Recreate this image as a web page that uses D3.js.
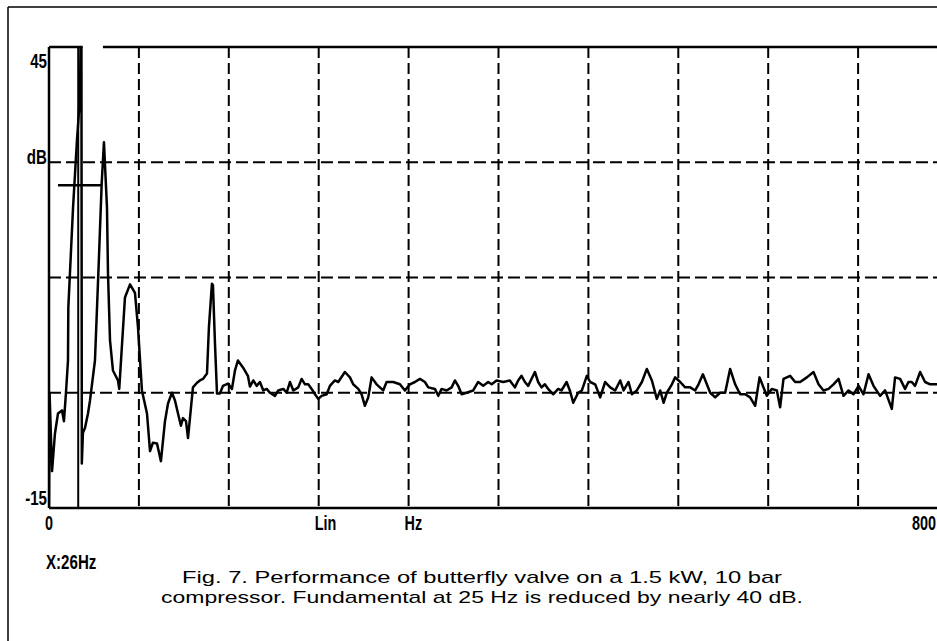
<!DOCTYPE html>
<html><head><meta charset="utf-8">
<script src="https://cdn.jsdelivr.net/npm/d3@7"></script>
<style>body{margin:0;background:#fff;overflow:hidden} svg{display:block}</style>
</head><body>
<svg id="c" width="937" height="641"></svg>
<script>
// ---- data (frequency in Hz, level in dB) ----
const spectrum = [
[0,-15],[0.5,0.0],[2.7,-10.2],[5.3,-5.3],[8.0,-2.7],[11.6,-2.3],[13.3,-3.7],[15.1,0.0],[16.9,4.2],[17.2,11.1],
[21.4,24.1],[24.9,32.9],[27.6,38.5],[28.8,56],[29.2,-9.2],[30.2,-5.2],[32.0,-4.6],[34.7,-2.7],[36.5,-1.0],[40.9,4.2],
[43.9,15.5],[46.9,27.3],[48.9,32.6],[51.6,24.1],[52.5,15.5],[54.3,6.8],[56.9,2.9],[61.4,1.6],[62.5,0.5],[67.6,12.4],
[72.1,14.1],[76.5,13.0],[79.2,8.5],[82.7,0.3],[87.2,-2.7],[89.9,-7.6],[92.5,-6.5],[96.1,-6.6],[99.6,-8.9],[103.2,-3.7],
[105.9,-1.4],[109.4,0.0],[112.1,-1.0],[114.8,-2.7],[117.4,-4.3],[119.2,-3.3],[121.9,-3.7],[123.7,-5.9],[126.3,-2.0],[128.1,0.7],
[131.7,1.3],[134.3,1.6],[137.0,1.8],[140.6,2.5],[142.3,8.5],[145.0,14.2],[145.9,14.0],[147.7,6.4],[149.5,-0.1],[152.1,-0.1],
[154.8,0.9],[159.3,1.2],[162.8,0.5],[165.5,2.9],[168.1,4.2],[172.6,3.3],[177.0,2.2],[178.8,0.8],[181.8,1.6],[184.8,0.9],
[187.7,1.4],[190.7,0.3],[193.7,0.5],[196.6,0.0],[201.1,-0.4],[204.0,0.3],[208.5,0.5],[211.5,0.0],[214.4,1.4],[217.4,0.3],
[221.8,0.7],[224.8,1.8],[227.8,1.1],[230.7,1.1],[233.7,0.5],[236.7,-0.2],[239.6,-0.8],[242.6,-0.4],[247.1,-0.2],[250.0,0.9],
[254.4,1.6],[257.4,1.4],[263.3,2.7],[267.8,2.0],[270.7,1.1],[275.2,0.5],[278.2,-0.2],[281.1,-1.7],[284.1,-0.6],[287.1,2.0],
[291.5,1.1],[297.4,0.3],[300.4,1.4],[306.3,1.4],[312.3,1.1],[316.7,0.3],[321.2,1.1],[325.6,1.4],[330.1,1.8],[334.5,1.4],
[337.5,0.7],[343.4,0.5],[346.4,-0.4],[349.4,0.5],[353.8,0.3],[358.3,0.7],[361.2,1.6],[364.1,0.9],[367.2,-0.2],[371.6,0.0],
[377.5,0.3],[381.9,1.4],[386.4,0.9],[390.8,1.4],[393.9,1.1],[398.3,1.6],[404.2,1.4],[410.1,1.6],[414.6,0.7],[417.5,1.6],
[420.5,2.2],[423.5,1.4],[426.4,0.9],[432.4,2.7],[435.3,1.4],[438.3,0.7],[441.3,1.1],[444.2,0.5],[448.7,-0.2],[453.1,0.5],
[456.1,0.3],[460.6,1.4],[463.5,0.3],[466.5,-1.3],[470.9,0.0],[474.2,0.3],[478.6,2.2],[481.6,1.4],[486.0,1.1],[490.5,-0.6],
[494.9,1.4],[499.4,0.7],[503.8,0.3],[508.3,1.6],[511.3,0.3],[515.7,1.4],[518.7,-0.2],[523.1,0.3],[527.6,1.4],[532.0,3.1],
[536.5,1.6],[540.9,-0.8],[543.9,0.3],[546.9,-1.3],[549.8,0.0],[554.3,1.1],[557.2,2.0],[561.7,1.4],[566.1,0.7],[570.6,0.7],
[575.0,0.3],[578.0,1.1],[581.9,2.4],[585.4,1.1],[588.4,0.0],[592.8,-0.6],[597.2,0.0],[601.7,0.0],[606.1,3.1],[610.6,1.1],
[615.0,-0.2],[619.5,-0.2],[623.9,-0.6],[628.4,-1.7],[632.3,2.0],[635.8,0.7],[638.8,-0.4],[643.2,0.5],[647.7,0.3],[650.6,-1.9],
[653.6,1.8],[659.5,2.2],[664.0,1.4],[668.4,1.4],[674.4,2.0],[680.3,2.7],[684.8,1.1],[689.2,0.3],[693.7,0.5],[698.1,1.1],
[702.6,1.8],[707.0,-0.4],[711.5,0.3],[715.9,-0.2],[720.4,0.9],[724.8,-0.2],[729.3,2.4],[733.7,0.9],[739.6,-0.4],[744.0,0.3],
[750.0,-2.1],[752.9,2.0],[757.4,1.8],[761.8,0.5],[764.8,1.4],[767.8,1.4],[770.7,0.9],[775.2,2.7],[779.6,1.4],[784.1,1.1],
[790.0,1.1],[795.0,1.0],[800.0,0.8]
];
const xDomainHz = [0, 800];
const yDomainDb = [-15, 45];
const xGridHz = [80,160,240,320,400,480,560,640,720];
const yGridDb = [0,15,30];
const yTickLabels = [[45,"45"],[30,"dB"],[-15,"-15"]];
const xTickLabels = [[0,"0"],[240,"Lin"],[320,"Hz"],[800,"800"]];
const cursorHz = 26;
const cursorLabel = "X:26Hz";
const markerDb = 27, markerFromHz = 8, markerToHz = 47;
const topGapHz = [30, 48];
const captionLines = [
  "Fig. 7. Performance of butterfly valve on a 1.5 kW, 10 bar",
  "compressor. Fundamental at 25 Hz is reduced by nearly 40 dB."
];

// ---- drawing ----
const svg = d3.select("#c");
const x = d3.scaleLinear().domain(xDomainHz).range([49, 948]);
const y = d3.scaleLinear().domain(yDomainDb).range([508, 47]);
const axisFont = "'Liberation Sans',Arial,sans-serif";
const narrow = 0.72;

// outer frame
svg.append("line").attr("x1",8).attr("x2",937).attr("y1",7).attr("y2",7).attr("stroke","#000").attr("stroke-width",1.5);
svg.append("line").attr("x1",8).attr("x2",8).attr("y1",7).attr("y2",641).attr("stroke","#000").attr("stroke-width",1.5);

svg.append("defs").append("clipPath").attr("id","plotclip")
  .append("rect").attr("x",x(0)).attr("y",y(45)).attr("width",x(800)-x(0)).attr("height",y(-15)-y(45));

// grid
const g = svg.append("g").attr("stroke","#000").attr("stroke-width",2).attr("fill","none");
g.selectAll("line.v").data(xGridHz).join("line").attr("class","v")
  .attr("x1",d=>x(d)).attr("x2",d=>x(d)).attr("y1",y(45)).attr("y2",y(-15))
  .attr("stroke-dasharray","11,5");
g.selectAll("line.h").data(yGridDb).join("line").attr("class","h")
  .attr("x1",x(0)).attr("x2",x(800)).attr("y1",d=>y(d)).attr("y2",d=>y(d))
  .attr("stroke-dasharray","12,5");

// axes frame
const ax = svg.append("g").attr("stroke","#000").attr("stroke-width",2.5);
ax.append("line").attr("x1",x(0)).attr("x2",x(0)).attr("y1",y(45)).attr("y2",y(-15));
ax.append("line").attr("x1",x(0)).attr("x2",x(800)).attr("y1",y(-15)).attr("y2",y(-15));
ax.append("line").attr("x1",x(0)).attr("x2",x(topGapHz[0])).attr("y1",y(45)).attr("y2",y(45));
ax.append("line").attr("x1",x(topGapHz[1])).attr("x2",x(800)).attr("y1",y(45)).attr("y2",y(45));

// cursor and marker
svg.append("line").attr("x1",x(cursorHz)).attr("x2",x(cursorHz)).attr("y1",y(-15)).attr("y2",y(45))
  .attr("stroke","#000").attr("stroke-width",2);
svg.append("line").attr("x1",x(markerFromHz)).attr("x2",x(markerToHz)).attr("y1",y(markerDb)).attr("y2",y(markerDb))
  .attr("stroke","#000").attr("stroke-width",2.5);

// spectrum
const line = d3.line().x(d=>x(d[0])).y(d=>y(d[1]));
svg.append("path").datum(spectrum).attr("clip-path","url(#plotclip)")
  .attr("d",line).attr("fill","none").attr("stroke","#000").attr("stroke-width",2.5)
  .attr("stroke-linejoin","round");

// y labels (condensed bold)
const yLabOffsets = {"45":21, "dB":2, "-15":-3};
svg.selectAll("text.yl").data(yTickLabels).join("text").attr("class","yl")
  .attr("transform",d=>`translate(${x(0)-2},${y(d[0])+yLabOffsets[d[1]]}) scale(${narrow},1)`)
  .attr("text-anchor","end").attr("font-family",axisFont).attr("font-weight","bold").attr("font-size",21)
  .text(d=>d[1]);

// x labels
svg.selectAll("text.xl").data(xTickLabels).join("text").attr("class","xl")
  .attr("transform",d=>{
    const px = d[0]===0 ? x(d[0]) : (d[0]===800 ? 936 : x(d[0])-4);
    return `translate(${px},530) scale(${narrow},1)`;
  })
  .attr("text-anchor",d=> d[0]===0 ? "middle" : (d[0]===800 ? "end" : "start"))
  .attr("font-family",axisFont).attr("font-weight","bold").attr("font-size",20)
  .text(d=>d[1]);

svg.append("text").attr("transform",`translate(${x(0)-3},569) scale(${narrow},1)`)
  .attr("font-family",axisFont).attr("font-weight","bold")
  .attr("font-size",21).text(cursorLabel);

// caption
const capLens = [600, 642];
svg.selectAll("text.cap").data(captionLines).join("text").attr("class","cap")
  .attr("x",482).attr("y",(d,i)=>583+i*19.5).attr("text-anchor","middle")
  .attr("font-family","'Liberation Sans',Arial,sans-serif").attr("font-size",17)
  .attr("textLength",(d,i)=>capLens[i]).attr("lengthAdjust","spacingAndGlyphs")
  .text(d=>d);
</script>
</body></html>
